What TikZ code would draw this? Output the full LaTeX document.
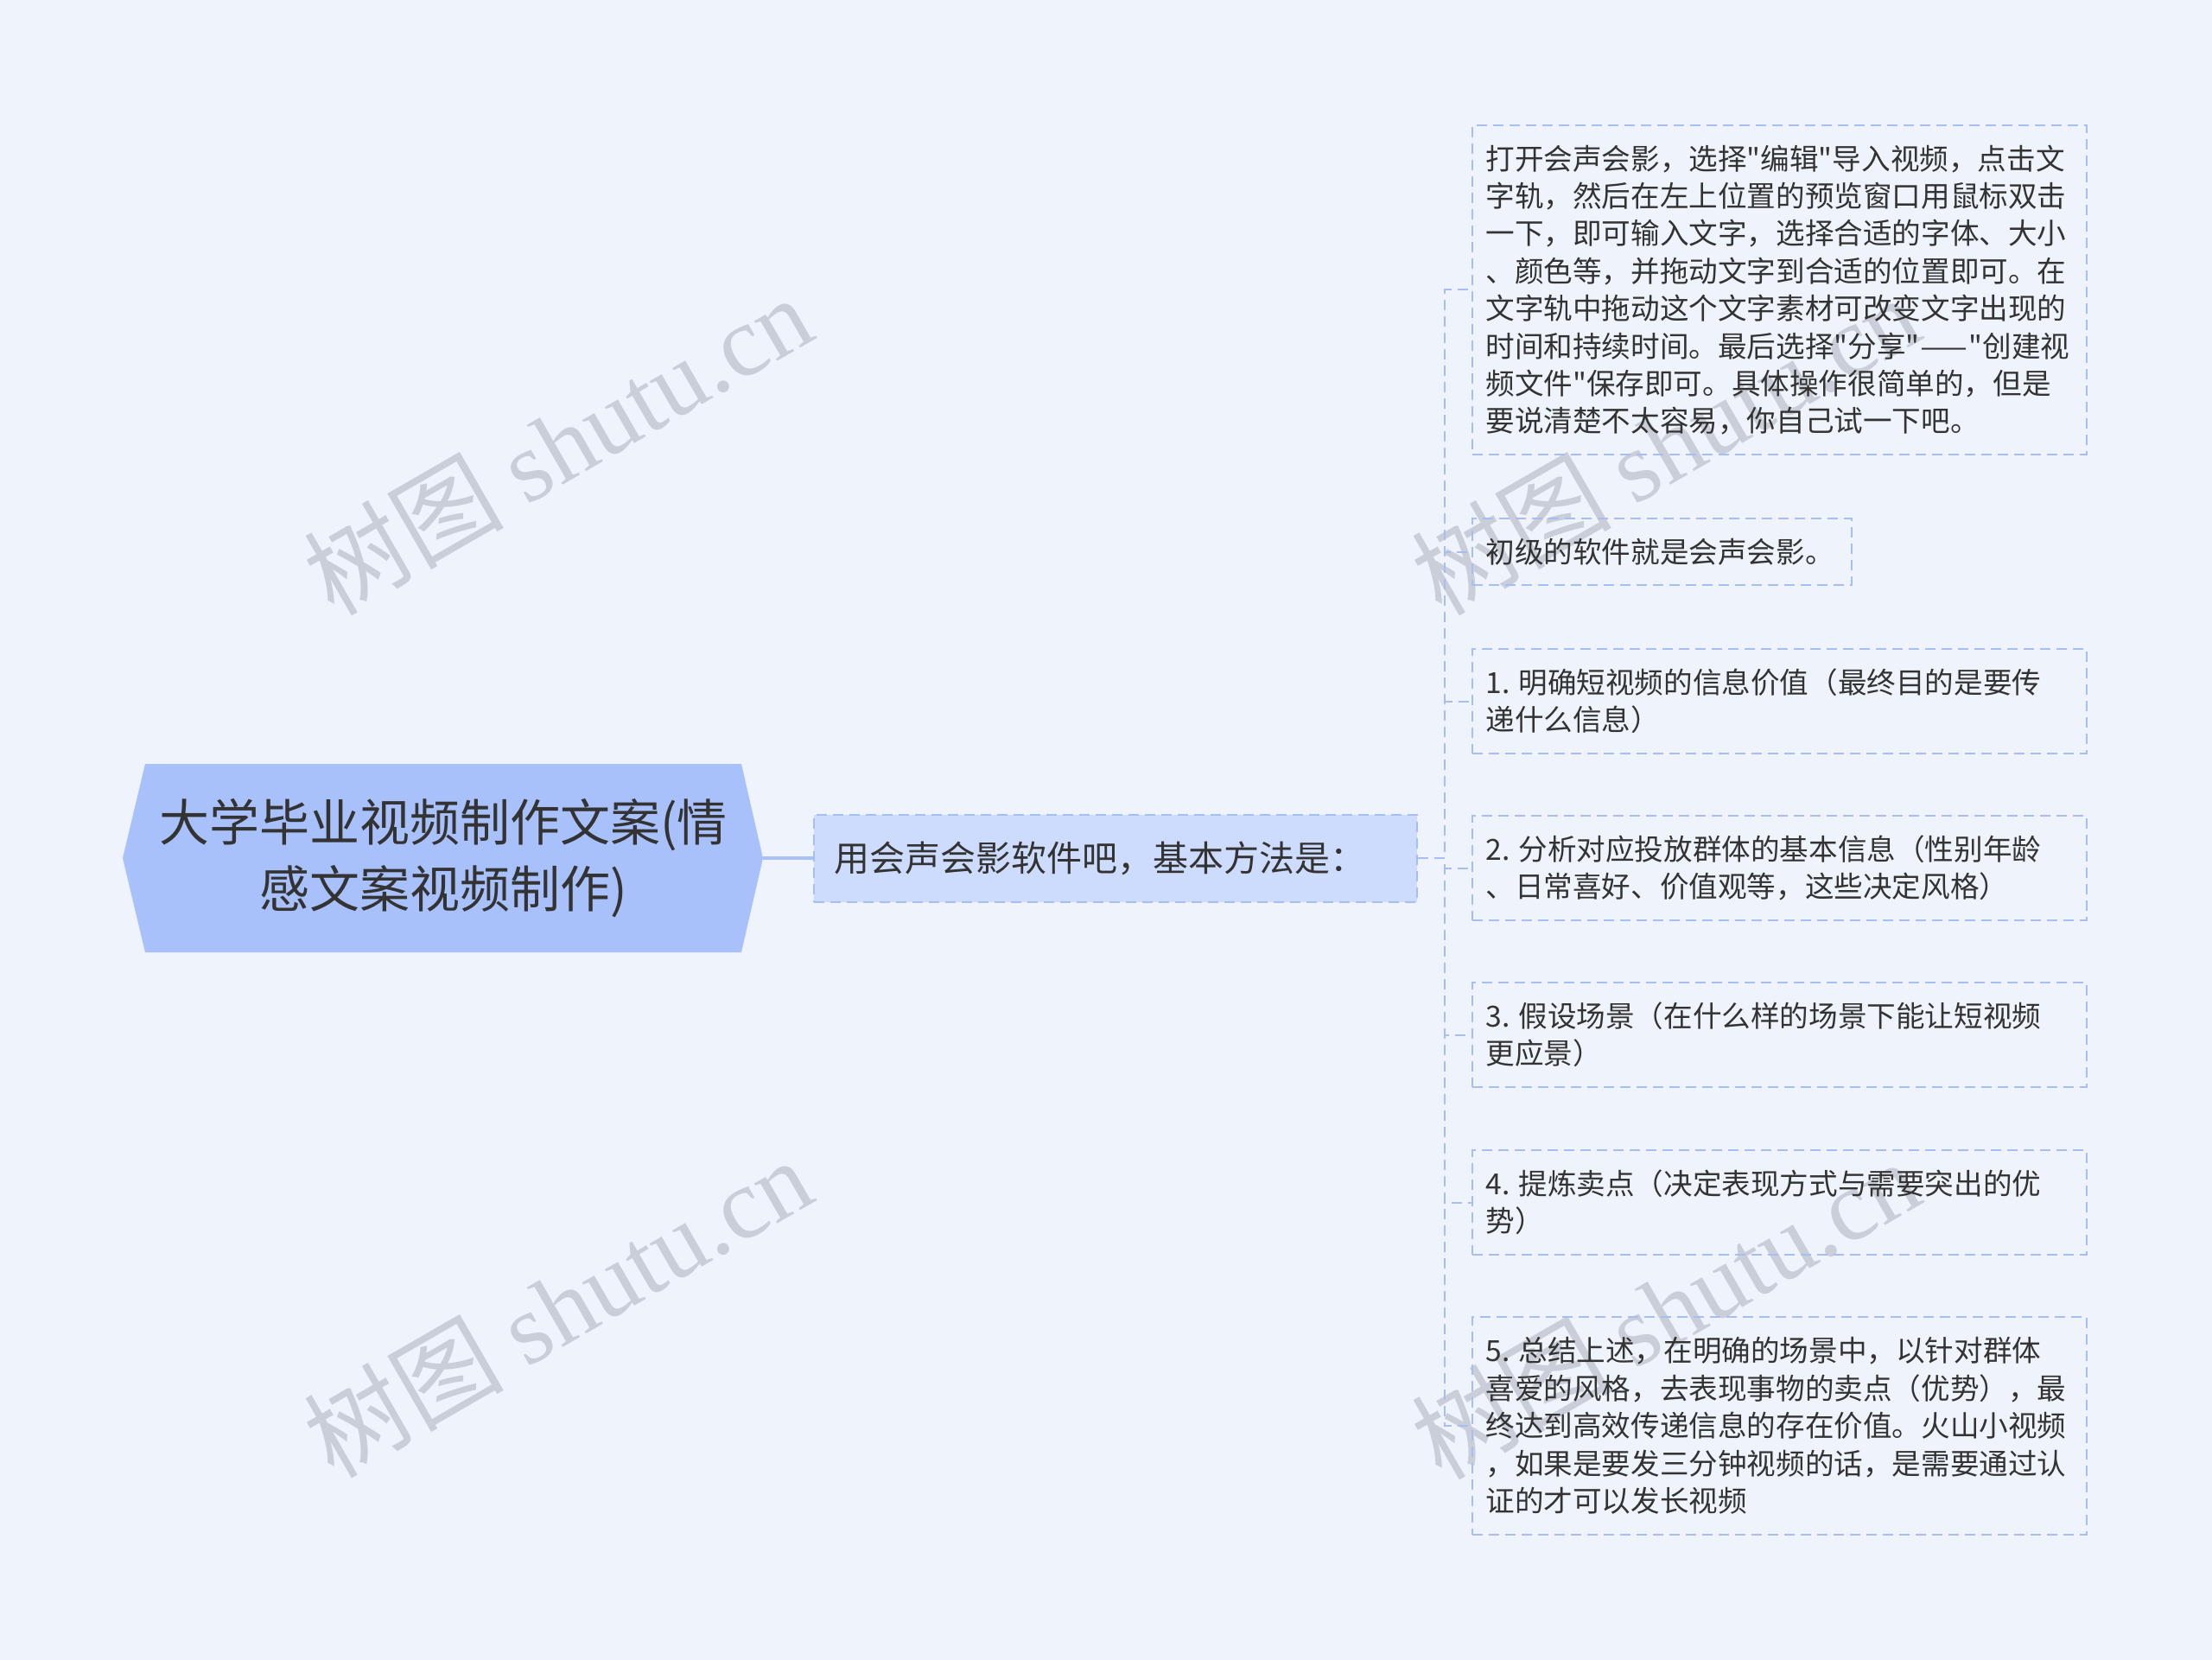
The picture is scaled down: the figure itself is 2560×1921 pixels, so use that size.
\documentclass[tikz,border=0pt]{standalone}
\usepackage{fontspec}
\newfontfamily\cjk{Noto Sans CJK SC}
\setmainfont{Noto Sans CJK SC}
\newfontfamily\wmserif{Liberation Serif}
\definecolor{bgc}{HTML}{EEF3FC}
\definecolor{rootfill}{HTML}{A8C1FB}
\definecolor{midfill}{HTML}{CDDCFD}
\definecolor{boxline}{HTML}{A6BEF2}
\definecolor{txt}{HTML}{333333}
\definecolor{wmc}{HTML}{C9CED8}
\newcommand{\widedash}{\scalebox{1.9}[1]{—}}
\begin{document}
\begin{tikzpicture}[x=0.5pt,y=-0.5pt,
  dashline/.style={draw=boxline, line width=1pt, dash pattern=on 6pt off 3.5pt},
  leafbox/.style={dashline, rectangle, inner sep=0pt, minimum width=355.5pt},
  leaftext/.style={anchor=west, inner sep=0pt, align=left, text=txt,
    font=\cjk\fontsize{16.8pt}{21.7pt}\selectfont},
  midbox/.style={dashline, fill=midfill, rectangle, minimum width=349pt, minimum height=50.5pt,
    text width=326pt, inner xsep=11.5pt, align=left, text=txt,
    font=\cjk\fontsize{20.5pt}{24pt}\selectfont},
  roottext/.style={align=center, text=txt, inner sep=0pt,
    font=\cjk\fontsize{29pt}{38.5pt}\selectfont},
  rootlink/.style={draw=rootfill, line width=1.6pt},
  wm/.style={rotate=30, text=wmc, inner sep=0pt, font=\cjk\fontsize{58pt}{58pt}\selectfont}
]
\useasboundingbox (0,0) rectangle (2560,1921);
\fill[bgc] (0,0) rectangle (2560,1921);

% watermarks
\node[wm] (wm1) at (645,514) {树图 {\wmserif shutu.cn}};
\node[wm] (wm2) at (645,1512) {树图 {\wmserif shutu.cn}};
\node[wm] (wm3) at (1927,514) {树图 {\wmserif shutu.cn}};
\node[wm] (wm4) at (1927,1514) {树图 {\wmserif shutu.cn}};

% root hexagon
\fill[rootfill] (142,993) -- (168,884) -- (858,884) -- (883,993) -- (858,1102) -- (168,1102) -- cycle;
\coordinate (rootE) at (883,993);
\node[roottext] (root) at (513,993) {大学毕业视频制作文案(情\\感文案视频制作)};

% middle node
\node[midbox] (n2) at (1291,993) {用会声会影软件吧，基本方法是：};
\draw[rootlink] (rootE) -- (n2.west);

% leaf boxes
\node[leafbox, minimum height=190.5pt] (b1) at (2059.5,335.5) {};
\node[leafbox, minimum width=219.5pt, minimum height=38.5pt] (b2) at (1923.5,638.5) {};
\node[leafbox, minimum height=60.5pt] (b3) at (2059.5,811.5) {};
\node[leafbox, minimum height=60.5pt] (b4) at (2059.5,1004.5) {};
\node[leafbox, minimum height=60.5pt] (b5) at (2059.5,1197.5) {};
\node[leafbox, minimum height=60.5pt] (b6) at (2059.5,1391.5) {};
\node[leafbox, minimum height=126pt] (b7) at (2059.5,1650) {};

\node[leaftext] (t1) at ([xshift=8pt]b1.west) {打开会声会影，选择"编辑"导入视频，点击文\\字轨，然后在左上位置的预览窗口用鼠标双击\\一下，即可输入文字，选择合适的字体、大小\\、颜色等，并拖动文字到合适的位置即可。在\\文字轨中拖动这个文字素材可改变文字出现的\\时间和持续时间。最后选择"分享"\widedash"创建视\\频文件"保存即可。具体操作很简单的，但是\\要说清楚不太容易，你自己试一下吧。};
\node[leaftext] (t2) at ([xshift=8pt]b2.west) {初级的软件就是会声会影。};
\node[leaftext] (t3) at ([xshift=8pt]b3.west) {1. 明确短视频的信息价值（最终目的是要传\\递什么信息）};
\node[leaftext] (t4) at ([xshift=8pt]b4.west) {2. 分析对应投放群体的基本信息（性别年龄\\、日常喜好、价值观等，这些决定风格）};
\node[leaftext] (t5) at ([xshift=8pt]b5.west) {3. 假设场景（在什么样的场景下能让短视频\\更应景）};
\node[leaftext] (t6) at ([xshift=8pt]b6.west) {4. 提炼卖点（决定表现方式与需要突出的优\\势）};
\node[leaftext] (t7) at ([xshift=8pt]b7.west) {5. 总结上述，在明确的场景中，以针对群体\\喜爱的风格，去表现事物的卖点（优势），最\\终达到高效传递信息的存在价值。火山小视频\\，如果是要发三分钟视频的话，是需要通过认\\证的才可以发长视频};

% connectors
\coordinate (hub) at (1672,993);
\foreach \b in {b1,b2,b3,b4,b5,b6,b7}{
  \draw[dashline] (n2.east) -- (hub) |- (\b.west);
}
\end{tikzpicture}
\end{document}
